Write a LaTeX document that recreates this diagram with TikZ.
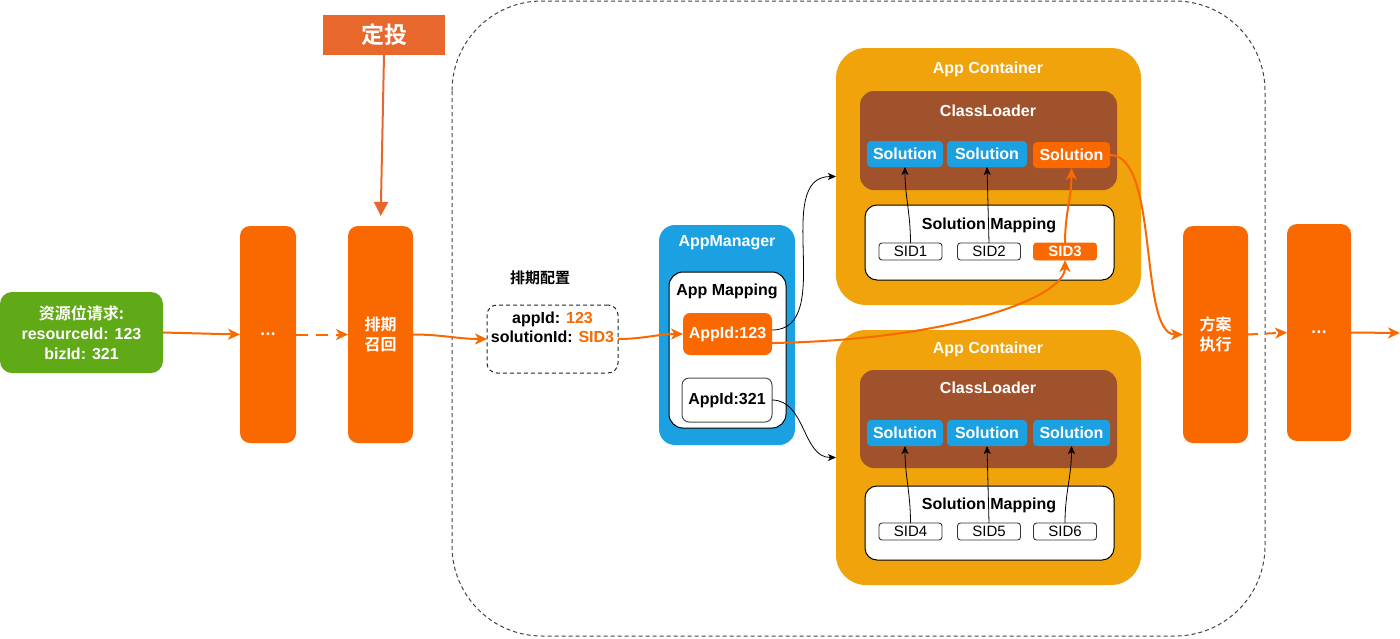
\documentclass[tikz,border=0pt]{standalone}
\usepackage{fontspec}
\setmainfont{Liberation Sans}
\newfontfamily\cjk[BoldFont={Noto Sans CJK SC Bold}]{Noto Sans CJK SC}
\usetikzlibrary{arrows.meta}
\definecolor{cOrange}{HTML}{FA6800}
\definecolor{cDing}{HTML}{E8672C}
\definecolor{cGreen}{HTML}{60A917}
\definecolor{cBlue}{HTML}{1BA1E2}
\definecolor{cAmber}{HTML}{F0A30A}
\definecolor{cBrown}{HTML}{A0522D}
\definecolor{cDash}{HTML}{444444}
\begin{document}
\begin{tikzpicture}[x=1pt,y=-1pt,
  base/.style={inner sep=0pt, outer sep=0pt, align=center},
  tall/.style={base, fill=cOrange, rounded corners=10pt, minimum height=217pt, text=white, font=\cjk\bfseries\fontsize{16}{20}\selectfont},
  ttl/.style={inner sep=0pt, outer sep=0pt, text=white, font=\bfseries\fontsize{16}{19}\selectfont},
  soln/.style={base, fill=cBlue, rounded corners=4pt, minimum height=26pt, text=white, font=\bfseries\fontsize{16}{19}\selectfont},
  sidbox/.style={base, draw=black!80, line width=0.9pt, fill=white, rounded corners=3pt, minimum width=63pt, minimum height=17pt, font=\fontsize{15}{17}\selectfont},
  container/.style={base, fill=cAmber, rounded corners=30pt, minimum width=305pt},
  loader/.style={base, fill=cBrown, rounded corners=14pt, minimum width=257pt},
  smap/.style={base, fill=white, draw=black, line width=1pt, rounded corners=12pt, minimum width=249pt},
  oarr/.style={draw=cOrange, line width=2pt, -{Stealth[length=12pt,width=11pt,inset=3.5pt]}},
  barr/.style={draw=black, line width=0.8pt, -{Stealth[length=8pt,width=7pt,inset=2pt]}}
]
\useasboundingbox (0,0) rectangle (1400,638);
\fill[white] (0,0) rectangle (1400,638);

% big dashed region
\draw[cDash, line width=1pt, dash pattern=on 4pt off 3pt, rounded corners=90pt] (452,1) rectangle (1265,636);

% left part
\node[base, fill=cGreen, rounded corners=12pt, minimum width=163pt, minimum height=81pt, text=white, font=\bfseries\fontsize{16}{20}\selectfont] (req) at (81.5,332.5) {{\cjk 资源位请求:}\\resourceId: 123\\bizId: 321};
\node[tall, minimum width=56pt] (b1) at (268,334.5) {...};
\node[tall, minimum width=65pt] (b2) at (380.5,334.5) {排期\\召回};
\node[base, fill=cDing, minimum width=122pt, minimum height=40pt, text=white, font=\cjk\bfseries\fontsize{23}{26}\selectfont] (dt) at (384,35) {定投};

% config
\node[inner sep=0pt, font=\cjk\bfseries\fontsize{15}{18}\selectfont] (cfglbl) at (540,278) {排期配置};
\node[base, draw=black!85, line width=1pt, dash pattern=on 4pt off 3pt, rounded corners=10pt, minimum width=131pt, minimum height=68pt] (cfg) at (552.5,339) {};
\node[inner sep=0pt, align=center, font=\bfseries\fontsize{16}{19}\selectfont] (cfgtxt) at (552.5,327.5) {appId: \textcolor{cOrange}{123}\\solutionId: \textcolor{cOrange}{SID3}};

% AppManager
\node[base, fill=cBlue, rounded corners=16pt, minimum width=136pt, minimum height=220pt] (am) at (727,335) {};
\node[ttl] (amt) at (727,243) {AppManager};
\node[base, fill=white, draw=black, line width=1pt, rounded corners=14pt, minimum width=117pt, minimum height=156pt] (amap) at (727.5,350) {};
\node[ttl, text=black] (amapt) at (727,291) {App Mapping};
\node[base, fill=cOrange, rounded corners=7pt, minimum width=89pt, minimum height=42pt, text=white, font=\bfseries\fontsize{16}{19}\selectfont] (a123) at (727.5,334) {AppId:123};
\node[base, fill=white, draw=black!70, line width=1pt, rounded corners=7pt, minimum width=90pt, minimum height=44pt, font=\bfseries\fontsize{16}{19}\selectfont] (a321) at (727,400) {AppId:321};

% App Container 1
\node[container, minimum height=257pt] (ac1) at (988.5,176.5) {};
\node[ttl] (ac1t) at (988,69) {App Container};
\node[loader, minimum height=99pt] (cl1) at (988.5,140.5) {};
\node[ttl] (cl1t) at (988,111) {ClassLoader};
\node[soln, minimum width=76pt] (s11) at (905,154) {Solution};
\node[soln, minimum width=80pt] (s12) at (987,154) {Solution};
\node[soln, fill=cOrange, minimum width=77pt] (s13) at (1071.5,155) {Solution};
\node[smap, minimum height=75pt] (sm1) at (989.5,242.5) {};
\node[ttl, text=black] (sm1t) at (989,225) {Solution Mapping};
\node[sidbox] (sid1) at (910.5,251.5) {SID1};
\node[sidbox] (sid2) at (989,251.5) {SID2};
\node[sidbox, draw=cOrange, fill=cOrange, text=white, font=\bfseries\fontsize{15}{17}\selectfont] (sid3) at (1065,251.5) {SID3};

% App Container 2
\node[container, minimum height=255pt] (ac2) at (988.5,457.5) {};
\node[ttl] (ac2t) at (988,349) {App Container};
\node[loader, minimum height=98pt] (cl2) at (988.5,419) {};
\node[ttl] (cl2t) at (988,388) {ClassLoader};
\node[soln, minimum width=76pt] (s21) at (905,433) {Solution};
\node[soln, minimum width=80pt] (s22) at (987,433) {Solution};
\node[soln, minimum width=77pt] (s23) at (1071.5,433) {Solution};
\node[smap, minimum height=74pt] (sm2) at (989.5,523) {};
\node[ttl, text=black] (sm2t) at (989,505) {Solution Mapping};
\node[sidbox] (sid4) at (910.5,531.5) {SID4};
\node[sidbox] (sid5) at (989,531.5) {SID5};
\node[sidbox] (sid6) at (1065,531.5) {SID6};

% right part
\node[tall, minimum width=65pt] (fa) at (1215.5,334.5) {方案\\执行};
\node[tall, minimum width=64pt] (b3) at (1319,332.5) {...};
\coordinate (outp) at (1400,333);

% connectors
\draw[oarr] (req.east) -- (b1.west);
\draw[oarr, dash pattern=on 12pt off 8pt] (b1.east) -- (b2.west);
\draw[draw=cDing, line width=2pt, -{Triangle[length=14pt,width=14pt]}, shorten >=10pt] (dt.south) -- (b2.north);
\draw[oarr] (b2.east) to[out=0,in=180] (cfg.west);
\draw[oarr] (cfg.east) to[out=0,in=180] (a123.west);
\draw[barr] ([yshift=4pt]a123.east) to[out=0,in=180] (ac1.west);
\draw[barr] (a321.east) to[out=0,in=180] (ac2.west);
\draw[oarr] ([yshift=-9pt]a123.east) .. controls +(178,-3) and +(0,38) .. (sid3.south);
\draw[oarr] (sid3.north) to[out=90,in=-90] (s13.south);
\draw[oarr] (s13.east) .. controls +(50,0) and +(-45,0) .. (fa.west);
\draw[oarr, dash pattern=on 10pt off 8pt] (fa.east) -- (b3.west);
\draw[oarr] (b3.east) -- (outp);

\draw[barr] (sid1.north) to[out=90,in=-90] (s11.south);
\draw[barr] (sid2.north) -- (s12.south);
\draw[barr] (sid4.north) to[out=90,in=-90] (s21.south);
\draw[barr] (sid5.north) -- (s22.south);
\draw[barr] (sid6.north) to[out=90,in=-90] (s23.south);
\end{tikzpicture}
\end{document}
